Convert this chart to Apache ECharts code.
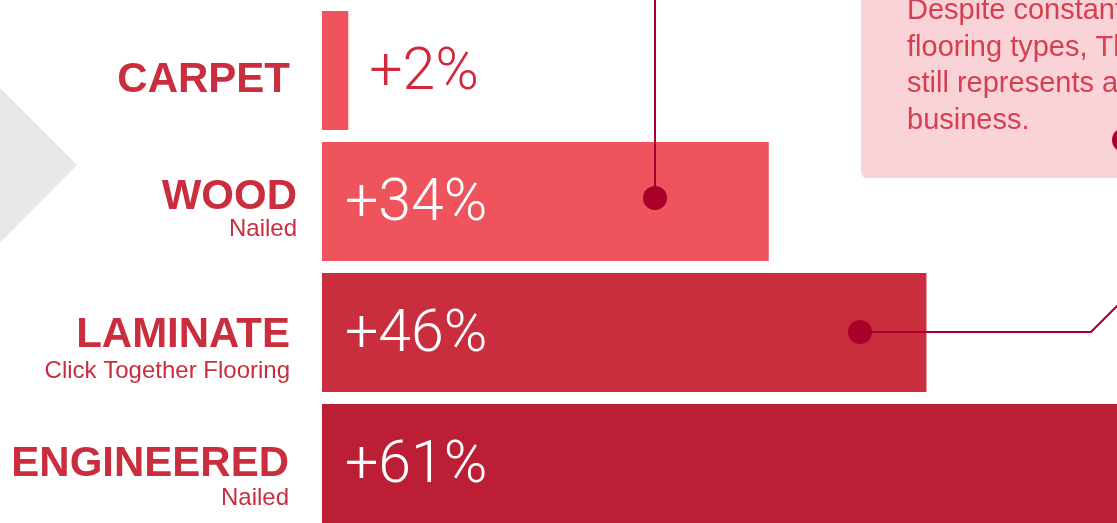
<!DOCTYPE html>
<html>
<head>
<meta charset="utf-8">
<style>
  html, body { margin: 0; padding: 0; background: #fff; }
  #chart { width: 1117px; height: 523px; }
</style>
<script src="https://cdn.jsdelivr.net/npm/echarts@6/dist/echarts.min.js"></script>
</head>
<body>
<div id="chart"></div>
<script>
var categories = ['CARPET', 'WOOD', 'LAMINATE', 'ENGINEERED'];
var subLabels = ['', 'Nailed', 'Click Together Flooring', 'Nailed'];
var values = [2, 34, 46, 61];
var barColors = ['#EF545C', '#EF545C', '#C92D3E', '#BC1E35'];
var noteLines = ['Despite constant changes in', 'flooring types, The carpet', 'still represents a large', 'business.'];

var FONT = "'Helvetica Neue', 'Liberation Sans', Arial, sans-serif";

var chart = echarts.init(document.getElementById('chart'));

var barData = values.map(function(v, i) {
	var item = {
		value: v,
		itemStyle: { color: barColors[i] }
	};
	// the small bar gets its label outside
	if (v < 10) {
		item.label = {
			position: 'right',
			distance: 21,
			color: '#D0283C'
		};
	}
	return item;
});

var noteText = noteLines.map(function(t, i) {
	return {
		type: 'text',
		x: 907,
		y: 11 + i * 36.7,
		z: 20,
		style: {
			text: t,
			fill: '#D4404F',
			font: '29px ' + FONT,
			verticalAlign: 'middle'
		}
	};
});

// spacer above, sub line height and right inset per row, to sit the labels like the original
var topGap = [20, 15, 38, 29];
var subGap = [0, 24, 33, 28];
var rightInset = [7, 0, 7, 8];
var rich = {};
topGap.forEach(function(g, i) {
	rich['t' + i] = { fontSize: 1, lineHeight: g };
	rich['m' + i] = {
		fontFamily: FONT,
		fontSize: 42,
		fontWeight: 'bold',
		color: '#C92D3E',
		lineHeight: 40,
		padding: [0, rightInset[i], 0, 0],
		align: 'right'
	};
	rich['s' + i] = {
		fontFamily: FONT,
		fontSize: 24,
		color: '#C92D3E',
		lineHeight: subGap[i],
		padding: [0, rightInset[i], 0, 0],
		align: 'right'
	};
});

chart.setOption({
	animation: false,
	grid: {
		left: 322,
		right: 0,
		top: 5,
		height: 524,
		outerBoundsMode: 'none'
	},
	xAxis: {
		type: 'value',
		min: 0,
		max: 60.5,
		show: false
	},
	yAxis: {
		type: 'category',
		inverse: true,
		data: categories,
		axisLine: { show: false },
		axisTick: { show: false },
		splitLine: { show: false },
		axisLabel: {
			margin: 25,
			align: 'right',
			formatter: function(value, index) {
				var s = '{t' + index + '| }\n{m' + index + '|' + value + '}';
				if (subLabels[index]) {
					s += '\n{s' + index + '|' + subLabels[index] + '}';
				}
				return s;
			},
			rich: rich
		}
	},
	series: [{
		type: 'bar',
		barWidth: 119,
		data: barData,
		label: {
			show: true,
			position: 'insideLeft',
			distance: 23,
			offset: [0, 4],
			color: '#ffffff',
			fontFamily: 'Roboto, ' + FONT,
			fontWeight: 300,
			fontSize: 59,
			formatter: function(p) {
				return '+' + p.value + '%';
			}
		}
	}],
	graphic: [
		// grey chevron on the left
		{
			type: 'polygon',
			z: 0,
			shape: { points: [[0, 88], [77, 165], [0, 243]] },
			style: { fill: '#E8E8E8' }
		},
		// note box
		{
			type: 'rect',
			z: 5,
			shape: { x: 861, y: -10, width: 300, height: 188, r: 6 },
			style: { fill: '#F9D3D7' }
		}
	].concat(noteText).concat([
		{
			type: 'line',
			z: 30,
			shape: { x1: 655, y1: 0, x2: 655, y2: 198 },
			style: { stroke: '#A8002A', lineWidth: 2 }
		},
		{
			type: 'circle',
			z: 30,
			shape: { cx: 655, cy: 198, r: 12 },
			style: { fill: '#A8002A' }
		},
		{
			type: 'circle',
			z: 30,
			shape: { cx: 1124, cy: 140, r: 12 },
			style: { fill: '#A8002A' }
		},
		{
			type: 'polyline',
			z: 30,
			shape: { points: [[860, 332], [1091, 332], [1121, 302]] },
			style: { stroke: '#A8002A', lineWidth: 2, fill: null }
		},
		{
			type: 'circle',
			z: 30,
			shape: { cx: 860, cy: 332, r: 12 },
			style: { fill: '#A8002A' }
		}
	])
});
</script>
</body>
</html>
